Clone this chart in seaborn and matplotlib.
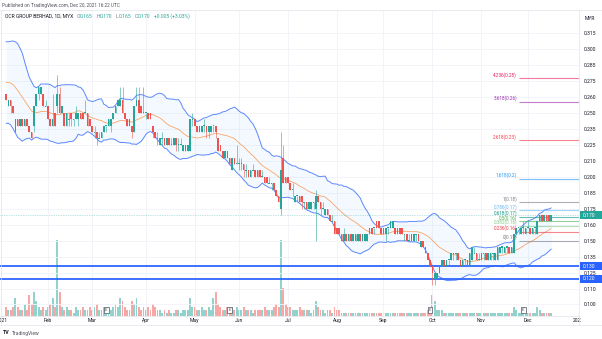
import numpy as np
import pandas as pd
import matplotlib
matplotlib.use("Agg")
import matplotlib.pyplot as plt
import matplotlib.transforms as mtrans
from matplotlib.lines import Line2D
from matplotlib.patches import Rectangle
import seaborn as sns

# ---------------- data (prices in MYR x 1000, volume in millions) ----------------
# closes before the first visible bar (only used to warm up the Bollinger bands)
pre_closes = [255, 260, 265, 275, 285, 290, 295, 295, 300, 295,
              290, 280, 275, 270, 265, 260, 255, 255, 250, 255]

opens = [
    265, 255, 260, 255, 235, 245, 240, 245, 240, 245, 240, 235, 240, 255, 265, 265, 265, 255,              # Jan
    255, 245, 240, 250, 255, 265, 250, 250, 240, 245, 250, 245, 245, 245, 250, 250, 250, 250, 245,         # Feb
    240, 235, 235, 230, 230, 235, 240, 240, 240, 245, 250, 255, 255, 260, 250, 245, 240, 240, 235, 255, 260, 255, 250,  # Mar
    250, 250, 250, 240, 235, 230, 225, 230, 230, 225, 230, 225, 225, 230, 225, 225, 220, 220, 220, 220, 245,  # Apr
    245, 240, 235, 235, 240, 240, 235, 235, 240, 240, 230, 225, 220, 215, 220, 215, 205, 215, 210,         # May
    210, 210, 210, 205, 205, 200, 205, 205, 205, 205, 200, 200, 200, 195, 195, 195, 190, 185, 175, 215, 200,  # Jun
    200, 195, 190, 180, 185, 185, 185, 180, 180, 175, 175, 180, 175, 185, 180, 175, 170, 175, 170, 165, 165,  # Jul
    160, 160, 155, 150, 155, 150, 155, 150, 150, 150, 155, 150, 150, 150, 160, 160, 160, 165, 165, 160,    # Aug
    155, 155, 160, 160, 160, 160, 160, 160, 160, 155, 155, 150, 150, 150, 155, 155, 145, 150, 145, 140, 135,  # Sep
    130, 120, 120, 125, 130, 135, 130, 135, 135, 140, 140, 140, 135, 130, 135, 135, 130, 135, 140, 140, 135,  # Oct
    135, 140, 140, 135, 135, 140, 135, 135, 140, 145, 140, 145, 145, 140, 140, 155, 160, 155, 160, 155,    # Nov
    160, 160, 155, 160, 155, 165, 170, 165, 170, 170, 165,                                                 # Dec
]
highs = [
    265, 260, 260, 255, 245, 245, 245, 245, 245, 245, 240, 235, 255, 265, 270, 270, 265, 260,
    255, 245, 265, 250, 280, 270, 255, 250, 250, 250, 250, 245, 255, 250, 250, 250, 260, 250, 245,
    240, 240, 235, 235, 235, 240, 240, 245, 245, 250, 255, 260, 270, 270, 250, 245, 245, 240, 255, 270, 270, 255, 270,
    250, 250, 250, 240, 235, 235, 230, 235, 230, 230, 230, 230, 230, 230, 230, 230, 225, 225, 225, 245, 250,
    245, 240, 240, 240, 245, 240, 240, 240, 240, 240, 230, 225, 220, 220, 220, 215, 215, 215, 225,
    215, 215, 210, 210, 205, 205, 210, 205, 205, 205, 205, 200, 200, 200, 195, 195, 190, 185, 235, 225, 200,
    200, 195, 195, 185, 185, 185, 185, 180, 180, 180, 180, 180, 190, 185, 180, 180, 175, 175, 170, 170, 165,
    160, 160, 155, 160, 155, 155, 155, 155, 155, 155, 155, 155, 155, 155, 160, 160, 160, 165, 165, 160,
    160, 160, 160, 165, 165, 160, 160, 160, 160, 155, 155, 155, 155, 155, 155, 155, 150, 150, 145, 140, 135,
    130, 125, 125, 130, 135, 135, 135, 135, 140, 140, 140, 140, 135, 135, 135, 135, 140, 145, 145, 140, 140,
    140, 140, 140, 140, 140, 140, 140, 145, 145, 145, 145, 145, 145, 145, 155, 160, 160, 160, 165, 160,
    165, 160, 160, 160, 165, 170, 170, 170, 170, 170, 170,
]
lows = [
    260, 255, 250, 250, 235, 240, 240, 240, 240, 240, 235, 230, 235, 255, 260, 265, 255, 255,
    245, 240, 240, 240, 250, 250, 250, 240, 240, 240, 240, 240, 245, 240, 245, 245, 250, 240, 240,
    235, 230, 225, 230, 230, 235, 235, 240, 235, 245, 250, 255, 255, 250, 245, 240, 240, 230, 235, 255, 250, 250, 250,
    245, 245, 245, 230, 230, 225, 225, 225, 225, 225, 225, 225, 225, 220, 220, 225, 220, 220, 220, 220, 240,
    240, 235, 235, 235, 235, 230, 230, 235, 235, 230, 220, 220, 215, 215, 215, 210, 205, 210, 210,
    205, 205, 200, 200, 200, 200, 205, 200, 200, 200, 200, 195, 195, 195, 190, 190, 185, 180, 170, 195, 195,
    195, 190, 185, 180, 180, 180, 175, 175, 175, 175, 175, 175, 150, 180, 170, 175, 170, 170, 165, 165, 155,
    155, 155, 150, 150, 150, 150, 150, 150, 150, 150, 150, 150, 150, 150, 155, 155, 155, 160, 160, 155,
    155, 150, 155, 160, 160, 155, 155, 155, 155, 150, 150, 150, 150, 150, 150, 150, 145, 145, 140, 135, 130,
    115, 115, 120, 125, 130, 130, 130, 130, 135, 135, 135, 135, 130, 130, 130, 130, 130, 135, 140, 135, 135,
    135, 135, 135, 135, 135, 135, 135, 135, 140, 140, 140, 140, 140, 140, 140, 155, 155, 155, 155, 155,
    160, 155, 155, 155, 155, 165, 165, 165, 165, 165, 165,
]
closes = [
    260, 260, 255, 250, 245, 240, 245, 240, 245, 240, 235, 230, 255, 265, 270, 270, 255, 255,
    245, 240, 245, 240, 265, 250, 255, 240, 250, 245, 245, 245, 250, 250, 245, 245, 250, 240, 240,
    235, 235, 230, 230, 235, 240, 240, 245, 245, 250, 255, 260, 260, 250, 245, 240, 245, 235, 255, 260, 250, 250, 250,
    250, 245, 245, 235, 230, 230, 230, 230, 225, 230, 225, 225, 230, 225, 225, 225, 225, 225, 225, 245, 245,
    240, 235, 240, 240, 240, 235, 240, 240, 240, 235, 220, 220, 215, 220, 215, 210, 215, 210, 210,
    210, 210, 205, 205, 200, 205, 205, 200, 200, 200, 200, 195, 195, 195, 195, 190, 185, 180, 205, 195, 195,
    195, 190, 190, 185, 185, 180, 180, 180, 175, 180, 180, 180, 185, 180, 175, 175, 175, 170, 165, 165, 155,
    155, 155, 150, 155, 150, 155, 150, 155, 155, 155, 150, 155, 155, 155, 155, 155, 160, 160, 160, 155,
    160, 160, 160, 165, 165, 155, 155, 155, 155, 155, 150, 150, 155, 155, 155, 150, 150, 145, 140, 135, 130,
    125, 125, 125, 130, 135, 130, 135, 135, 140, 140, 140, 135, 130, 135, 135, 130, 140, 145, 140, 135, 135,
    140, 140, 135, 140, 140, 140, 140, 145, 145, 145, 145, 145, 140, 145, 155, 160, 160, 160, 160, 160,
    160, 155, 160, 160, 165, 170, 165, 170, 165, 165, 170,
]
volumes = [
    3, 2, 2, 3, 6, 3, 2, 2, 4, 2, 7, 4, 8, 5, 3, 2, 3, 2,
    3, 4, 6, 3, 25, 8, 3, 2, 3, 2, 2, 1, 3, 2, 2, 3, 2, 2, 3,
    2, 3, 4, 2, 2, 3, 2, 3, 2, 3, 4, 3, 6, 5, 3, 2, 2, 5, 4, 6, 3, 2, 3,
    2, 3, 2, 4, 3, 2, 2, 1, 2, 1, 2, 1, 1, 2, 2, 1, 2, 2, 2, 6, 3,
    3, 2, 2, 3, 2, 2, 3, 2, 6, 8, 4, 3, 2, 2, 3, 2, 3, 2, 3,
    2, 2, 3, 2, 2, 2, 1, 2, 2, 2, 2, 3, 2, 2, 2, 3, 4, 3, 25, 9, 4,
    3, 3, 2, 2, 2, 3, 2, 2, 2, 2, 1, 2, 5, 3, 2, 2, 1, 2, 2, 1, 3,
    2, 2, 1, 1, 1, 1, 1, 1, 1, 1, 1, 1, 1, 1, 1, 1, 1, 1, 1, 1,
    1, 1, 1, 1, 1, 1, 1, 1, 1, 1, 1, 1, 1, 1, 1, 1, 1, 1, 1, 2, 2,
    7, 5, 2, 2, 2, 1, 1, 1, 1, 1, 1, 1, 1, 1, 1, 1, 1, 1, 1, 1, 1,
    1, 1, 1, 1, 1, 1, 1, 1, 1, 1, 1, 1, 1, 1, 3, 2, 1, 1, 1, 1,
    1, 1, 1, 1, 3, 2, 1, 1, 1, 1, 1,
]

month_labels = ["Feb", "Mar", "Apr", "May", "Jun", "Jul", "Aug", "Sep", "Oct", "Nov", "Dec"]
month_start_bar = [18, 37, 60, 81, 100, 121, 142, 162, 183, 204, 224]
year_labels = ["2021", "2022"]
year_start_bar = [-1.7, 245.5]
earnings_bar = [43, 96, 182, 222]

price_ticks = [0.1000, 0.1125, 0.1250, 0.1375, 0.1500, 0.1625, 0.1750, 0.1875, 0.2000,
               0.2125, 0.2250, 0.2375, 0.2500, 0.2625, 0.2750, 0.2875, 0.3000, 0.3125]
price_tick_labels = ["0.100", "0.110", "0.125", "0.135", "0.150", "0.160", "0.175", "0.185", "0.200",
                     "0.210", "0.225", "0.235", "0.250", "0.260", "0.275", "0.285", "0.300", "0.315"]

fib_ratios = [0, 0.236, 0.382, 0.5, 0.618, 0.786, 1, 1.618, 2.618, 3.618, 4.236]
fib_labels = ["0(0.15)", "0.236(0.16)", "0.382(0.16)", "0.5(0.16)", "0.618(0.17)", "0.786(0.17)",
              "1(0.18)", "1.618(0.2)", "2.618(0.23)", "3.618(0.26)", "4.236(0.28)"]
fib_colors = ["#787b86", "#f23645", "#81c784", "#4caf50", "#089981", "#64b5f6",
              "#787b86", "#2196f3", "#f23645", "#9c27b0", "#e91e63"]
fib_low, fib_high = 0.15, 0.18
fib_anchor_bar = 220

hline_prices = [0.130, 0.120]

# ---------------- layout ----------------
W, H = 602, 339
PANE = (0, 10, 579, 316)            # x0, y0, x1, y1 in pixels
BAR0_PX, BAR_PX = 6.0, 2.33         # pixel x of first bar, pixels per bar
PX_PER_PRICE = 1277.6
REF_PRICE, REF_PX = 0.3125, 33.0
X0 = (PANE[0] - BAR0_PX) / BAR_PX
X1 = (PANE[2] - BAR0_PX) / BAR_PX
Y_TOP = REF_PRICE + (REF_PX - PANE[1]) / PX_PER_PRICE
Y_BOT = REF_PRICE - (PANE[3] - REF_PX) / PX_PER_PRICE

GREEN, RED = "#26a69a", "#ef5350"
BLUE = "#2962ff"
TXT = "#131722"
FS = 3.6

sns.set_style("white")
plt.rcParams["font.family"] = ["Roboto", "DejaVu Sans"]

o = np.array(opens) / 1000
h = np.array(highs) / 1000
l = np.array(lows) / 1000
c = np.array(closes) / 1000
v = np.array(volumes, dtype=float)
n = len(c)
idx = np.arange(n)

allc = pd.Series(np.array(pre_closes + closes) / 1000)
mid = allc.rolling(20).mean()
sd = allc.rolling(20).std(ddof=0)
basis = mid.values[len(pre_closes):]
upper = (mid + 2 * sd).values[len(pre_closes):]
lower = (mid - 2 * sd).values[len(pre_closes):]

fig = plt.figure(figsize=(W / 100, H / 100), dpi=100)
fig.patch.set_facecolor("white")


def frac(x0, y0, x1, y1):
    return [x0 / W, 1 - y1 / H, (x1 - x0) / W, (y1 - y0) / H]


ax = fig.add_axes(frac(*PANE))
axv = ax.twinx()
ax.set_zorder(axv.get_zorder() + 1)
ax.patch.set_visible(False)

# volume
up = c >= o
vcol = np.where(up, GREEN, RED)
axv.bar(idx, v, width=0.8, color=vcol, alpha=0.5, linewidth=0)
axv.set_ylim(0, 100)
axv.axis("off")

# grid
ax.set_xticks(month_start_bar)
ax.set_yticks(price_ticks, price_tick_labels)
ax.grid(True, color="#f0f3fa", lw=0.6)
ax.set_axisbelow(True)
ax.yaxis.tick_right()
ax.tick_params(axis="y", length=0, pad=3.4, labelsize=FS, labelcolor=TXT,
               right=True, left=False, labelright=True, labelleft=False)
ax.tick_params(axis="x", length=0, labelbottom=False)
for sp in ax.spines.values():
    sp.set_visible(False)

# Bollinger bands
ax.fill_between(idx, lower, upper, color="#2196f3", alpha=0.05, lw=0, zorder=1)
sns.lineplot(x=idx, y=upper, ax=ax, color=BLUE, lw=0.7, alpha=0.75, estimator=None, zorder=2)
sns.lineplot(x=idx, y=lower, ax=ax, color=BLUE, lw=0.7, alpha=0.75, estimator=None, zorder=2)
sns.lineplot(x=idx, y=basis, ax=ax, color="#ff6d00", lw=0.6, alpha=0.6, estimator=None, zorder=2)

# horizontal levels
for p in hline_prices:
    ax.axhline(p, color=BLUE, lw=1.4, alpha=0.9, zorder=3)
ax.axhline(c[-1], color=GREEN, lw=0.5, ls=(0, (1, 1.5)), alpha=0.6, zorder=3)

# fibonacci extension
for r, lab, col in zip(fib_ratios, fib_labels, fib_colors):
    lvl = fib_low + r * (fib_high - fib_low)
    ax.hlines(lvl, fib_anchor_bar, X1 + 5, colors=col, lw=0.8, alpha=0.6, zorder=3)
    ax.annotate(lab, xy=(fib_anchor_bar, lvl), xytext=(-1.2, 0.4), textcoords="offset points",
                ha="right", va="bottom", fontsize=3.3, color=col, zorder=6)

# candles
col = np.where(up, GREEN, RED)
ax.vlines(idx, l, h, colors=col, lw=0.5, alpha=0.8, zorder=4)
body = np.abs(c - o)
bh = np.maximum(body, 0.0008)
bottom = np.minimum(o, c) - (bh - body) / 2
ax.bar(idx, bh, bottom=bottom, width=0.7, color=col, linewidth=0, zorder=5)

# earnings markers
bt_xa = mtrans.blended_transform_factory(ax.transData, ax.transAxes)
for b in earnings_bar:
    ax.text(b, (PANE[3] - 310) / (PANE[3] - PANE[1]), "E", transform=bt_xa, ha="center", va="center",
            fontsize=3.2, color="#50535e", zorder=7,
            bbox=dict(boxstyle="square,pad=0.25", fc="white", ec="#50535e", lw=0.5))

ax.set_xlim(X0, X1)
ax.set_ylim(Y_BOT, Y_TOP)

# price-axis boxes
bt = mtrans.blended_transform_factory(fig.transFigure, ax.transData)
boxes = [(c[-1], GREEN)] + [(p, BLUE) for p in hline_prices]
hh = 4.2 / PX_PER_PRICE
for p, bc in boxes:
    ax.add_patch(Rectangle((580 / W, p - hh), 22 / W, 2 * hh, transform=bt, facecolor=bc,
                           edgecolor="none", clip_on=False, zorder=20))
    ax.text(583 / W, p, f"{p:.3f}", transform=bt, ha="left", va="center", fontsize=FS,
            color="white", clip_on=False, zorder=21)
ax.set_xlim(X0, X1)
ax.set_ylim(Y_BOT, Y_TOP)

# time axis strip
tax = fig.add_axes(frac(0, 316, 581, 325))
tax.set_xlim(X0, X0 + 581 / BAR_PX)
tax.set_ylim(0, 1)
tax.axis("off")
for b, lab in zip(month_start_bar + year_start_bar, month_labels + year_labels):
    tax.text(b, 0.45, lab, ha="center", va="center", fontsize=FS, color=TXT, clip_on=True)

# frame lines
def fline(xs, ys):
    fig.add_artist(Line2D([x / W for x in xs], [1 - y / H for y in ys], transform=fig.transFigure,
                          color="#e0e3eb", lw=0.5))

fline([0, 602], [10, 10])
fline([0, 602], [325, 325])
fline([0, 579], [316, 316])
fline([579, 579], [10, 325])
fline([0.5, 0.5], [10, 325])
fline([601.5, 601.5], [10, 325])

# header texts
fig.text(2 / W, 1 - 5 / H, "Published on TradingView.com, Dec 20, 2021 16:22 UTC",
         fontsize=3.4, color="#50535e", ha="left", va="center")
t = fig.text(5 / W, 1 - 16 / H, "OCR GROUP BERHAD, 1D, MYX", fontsize=FS, color=TXT,
             ha="left", va="center")
chg = c[-1] - c[-2]
pieces = [("O", "#787b86"), (f"{o[-1]:.3f}", GREEN), ("H", "#787b86"), (f"{h[-1]:.3f}", GREEN),
          ("L", "#787b86"), (f"{l[-1]:.3f}", GREEN), ("C", "#787b86"), (f"{c[-1]:.3f}", GREEN),
          (f"{chg:+.3f} ({chg / c[-2] * 100:+.2f}%)", GREEN)]
gaps = [2.5, 0, 2.5, 0, 2.5, 0, 2.5, 0, 2.5]
for (s, pc), g in zip(pieces, gaps):
    t = fig.add_artist(matplotlib.text.Annotation(s, xy=(1, 0.5), xycoords=t, xytext=(g, 0),
                                                  textcoords="offset points", ha="left", va="center",
                                                  fontsize=FS, color=pc))
fig.text(590 / W, 1 - 18 / H, "MYR", fontsize=FS, color=TXT, ha="center", va="center")

# footer
fig.text(3 / W, 1 - 333 / H, "TV", fontsize=3.8, fontweight="bold", color=TXT, ha="left", va="center")
fig.text(12 / W, 1 - 333 / H, "TradingView", fontsize=3.6, color="#50535e", ha="left", va="center")

fig.savefig("out.png", dpi=100, facecolor="white")
